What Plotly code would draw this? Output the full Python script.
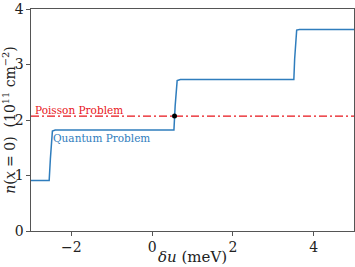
import plotly.graph_objects as go

# Quantum problem: n(x=0) vs delta u (stepwise)
du_quantum = [-3.0, -2.55, -2.52, -2.49, -2.47, -2.40, 0.54, 0.57, 0.60, 0.62, 0.70, 3.51, 3.53, 3.56, 3.58, 3.65, 5.0]
n_quantum = [0.91, 0.91, 1.30, 1.70, 1.80, 1.82, 1.82, 2.25, 2.63, 2.71, 2.73, 2.73, 3.10, 3.55, 3.62, 3.63, 3.63]

# Poisson problem: constant
du_poisson = [-3.0, 5.0]
n_poisson = [2.07, 2.07]

# Intersection point
du_point = [0.555]
n_point = [2.07]

x_ticks = [-2, 0, 2, 4]
y_ticks = [0, 1, 2, 3, 4]

font_family = "DejaVu Serif"

fig = go.Figure()
fig.add_trace(go.Scatter(x=du_poisson, y=n_poisson, mode="lines",
                         line=dict(color="#e8151b", width=1.4, dash="8px,3px,2px,3px"),
                         showlegend=False))
fig.add_trace(go.Scatter(x=du_quantum, y=n_quantum, mode="lines",
                         line=dict(color="#2f7dbd", width=1.5),
                         showlegend=False))
fig.add_trace(go.Scatter(x=du_point, y=n_point, mode="markers",
                         marker=dict(color="black", size=5),
                         showlegend=False))

fig.add_annotation(x=-2.95, y=2.07, text="Poisson Problem", showarrow=False,
                   xanchor="left", yanchor="bottom", yshift=-2,
                   font=dict(family=font_family, size=10.5, color="#e8151b"))
fig.add_annotation(x=-2.5, y=1.82, text="Quantum Problem", showarrow=False,
                   xanchor="left", yanchor="top", yshift=0,
                   font=dict(family=font_family, size=10.5, color="#2f7dbd"))
# x-axis title
fig.add_annotation(x=0.5, y=0, xref="paper", yref="paper", text="<i>δu</i> (meV)",
                   showarrow=False, xanchor="center", yanchor="middle", yshift=-26,
                   font=dict(family=font_family, size=15, color="#222222"))

axis_common = dict(showgrid=False, zeroline=False, showline=True, mirror=True,
                   linecolor="#555555", linewidth=1.2, ticks="outside",
                   ticklen=3.5, tickcolor="#555555",
                   tickfont=dict(family=font_family, size=14, color="#222222"))

fig.update_xaxes(range=[-3, 5], tickvals=x_ticks,
                 ticktext=["−2", "0", "2", "4"], automargin=False,
                 **axis_common)
fig.update_yaxes(range=[0, 4], tickvals=y_ticks,
                 title=dict(text="<i>n</i>(<i>x</i> = 0)  (10<sup>11</sup> cm<sup>−2</sup>)", standoff=3,
                            font=dict(family=font_family, size=14, color="#222222")),
                 **axis_common)

fig.update_layout(width=355, height=267, plot_bgcolor="white", paper_bgcolor="white",
                  font=dict(family=font_family),
                  margin=dict(l=31, r=1, t=9, b=36))

fig.write_html("out.html")
